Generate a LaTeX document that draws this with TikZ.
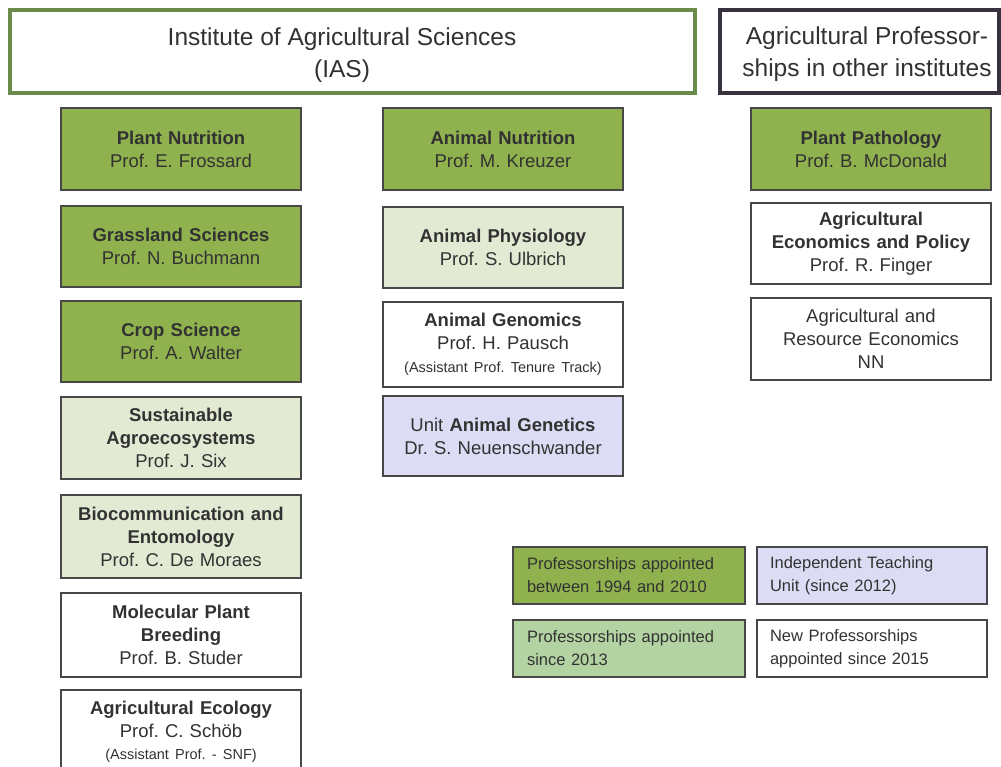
\documentclass[tikz,border=0pt]{standalone}
\usepackage{fontspec}
\setmainfont{Liberation Sans}
\definecolor{dkgreen}{RGB}{143,178,79}
\definecolor{ltgreen}{RGB}{227,234,212}
\definecolor{midgreen}{RGB}{180,211,162}
\definecolor{lavender}{RGB}{220,220,244}
\definecolor{boxline}{RGB}{72,72,72}
\definecolor{iasgreen}{RGB}{107,139,75}
\definecolor{hdrdark}{RGB}{55,50,62}
\definecolor{txt}{RGB}{50,50,50}
\tikzset{
  unitbox/.style={draw=boxline, line width=2pt, minimum width=240pt, text width=232pt,
    align=center, inner sep=0pt, text=txt, font=\fontsize{18.5}{23}\selectfont},
  hdr/.style={line width=4.5pt, align=center, inner sep=0pt, text=txt,
    font=\fontsize{24.5}{32}\selectfont},
  legendbox/.style={draw=boxline, line width=1.6pt, minimum height=57pt, text width=204pt,
    align=left, inner sep=0pt, text=txt, font=\fontsize{16.5}{23}\selectfont}
}
\newcommand{\smalltxt}[1]{{\fontsize{14.5}{16}\selectfont #1}}
\begin{document}
\frenchspacing
\begin{tikzpicture}[x=1pt,y=-1pt]
\useasboundingbox (0,0) rectangle (1001,767);
\clip (0,0) rectangle (1001,767);
\fill[white] (0,0) rectangle (1001,767);

% headers
\node[hdr, draw=iasgreen, minimum width=685pt, minimum height=83pt] (ias) at (352.5,51.5) {};
\node[hdr] (iastext) at (342,55) {Institute of Agricultural Sciences\\(IAS)};
\node[hdr, draw=hdrdark, minimum width=279pt, minimum height=83pt] (other) at (859.5,51.5) {};
\node[hdr] (othertext) at (867,54.5) {Agricultural Professor-\\ships in other institutes};

% left column
\node[unitbox, fill=dkgreen, minimum height=82pt] (pn) at (181,149)
  {\textbf{Plant Nutrition}\\Prof. E. Frossard};
\node[unitbox, fill=dkgreen, minimum height=81pt] (gs) at (181,246.5)
  {\textbf{Grassland Sciences}\\Prof. N. Buchmann};
\node[unitbox, fill=dkgreen, minimum height=80pt] (cs) at (181,341.5)
  {\textbf{Crop Science}\\Prof. A. Walter};
\node[unitbox, fill=ltgreen, minimum height=82pt] (sa) at (181,438)
  {\textbf{Sustainable}\\\textbf{Agroecosystems}\\Prof. J. Six};
\node[unitbox, fill=ltgreen, minimum height=83pt] (be) at (181,536.5)
  {\textbf{Biocommunication and}\\\textbf{Entomology}\\Prof. C. De Moraes};
\node[unitbox, fill=white, minimum height=84pt] (mpb) at (181,635)
  {\textbf{Molecular Plant}\\\textbf{Breeding}\\Prof. B. Studer};
\node[unitbox, fill=white, minimum height=84pt] (ae) at (181,732)
  {\textbf{Agricultural Ecology}\\Prof. C. Schöb\\[-1pt]\smalltxt{(Assistant Prof. - SNF)}};

% middle column
\node[unitbox, fill=dkgreen, minimum height=82pt] (an) at (503,149)
  {\textbf{Animal Nutrition}\\Prof. M. Kreuzer};
\node[unitbox, fill=ltgreen, minimum height=81pt] (ap) at (503,247.5)
  {\textbf{Animal Physiology}\\Prof. S. Ulbrich};
\node[unitbox, fill=white, minimum height=85pt] (ag) at (503,344.5)
  {\textbf{Animal Genomics}\\Prof. H. Pausch\\[0pt]\smalltxt{(Assistant Prof. Tenure Track)}};
\node[unitbox, fill=lavender, minimum height=80pt] (uag) at (503,436)
  {Unit \textbf{Animal Genetics}\\Dr. S. Neuenschwander};

% right column
\node[unitbox, fill=dkgreen, minimum height=82pt] (pp) at (871,149)
  {\textbf{Plant Pathology}\\Prof. B. McDonald};
\node[unitbox, fill=white, minimum height=81pt] (aep) at (871,243.5)
  {\textbf{Agricultural}\\\textbf{Economics and Policy}\\Prof. R. Finger};
\node[unitbox, fill=white, minimum height=82pt] (are) at (871,339)
  {Agricultural and\\Resource Economics\\NN};

% legend
\node[legendbox, fill=dkgreen, minimum width=232pt] (lg1) at (629,575.5)
  {Professorships appointed\\between 1994 and 2010};
\node[legendbox, fill=lavender, minimum width=230pt] (lg2) at (872,575.5)
  {Independent Teaching\\Unit (since 2012)};
\node[legendbox, fill=midgreen, minimum width=232pt] (lg3) at (629,648.5)
  {Professorships appointed\\since 2013};
\node[legendbox, fill=white, minimum width=230pt] (lg4) at (872,648.5)
  {New Professorships\\appointed since 2015};
\end{tikzpicture}
\end{document}
